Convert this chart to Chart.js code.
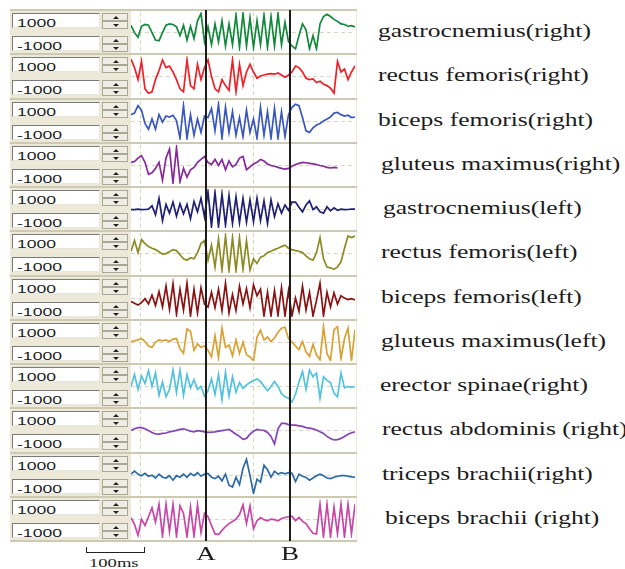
<!DOCTYPE html>
<html>
<head>
<meta charset="utf-8">
<script src="https://cdn.jsdelivr.net/npm/chart.js@4.4.0/dist/chart.umd.min.js"></script>
<style>
body { margin: 0; background: #fff; width: 625px; height: 569px; overflow: hidden; position: relative; }
.abs { position: absolute; }
.panel { background: #ece9d8; }
.sep { background: #cdc9b2; height: 2px; }
.box { background: #fff; border-top: 1px solid #7a7a7a; border-left: 1px solid #7a7a7a; border-bottom: 1px solid #e8e6dc; border-right: 1px solid #e8e6dc; box-sizing: border-box; overflow: hidden; }
.box span { display: inline-block; font: 11px 'Liberation Sans', sans-serif; color: #1a1a1a; transform: scaleX(1.6); transform-origin: left center; position: relative; left: 4px; top: -1px; line-height: 13px; }
.btn { position: absolute; left: 0; width: 26px; height: 8px; background: #f0eee4; border: 1px solid #a9a795; box-sizing: border-box; }
.up::after, .dn::after { content: ''; position: absolute; left: 10px; width: 0; height: 0; border-left: 3px solid transparent; border-right: 3px solid transparent; }
.up::after { top: 2px; border-bottom: 3px solid #222; }
.dn::after { top: 2px; border-top: 3px solid #222; }
.lbl { font: 18px 'Liberation Serif', serif; color: #1c1c1c; white-space: nowrap; transform: scaleX(1.42); transform-origin: left center; line-height: 20px; }
</style>
</head>
<body>
<div id="root"></div>
<script>
const muscles = [
    'gastrocnemius(right)', 'rectus femoris(right)', 'biceps femoris(right)', 'gluteus maximus(right)',
    'gastrocnemius(left)', 'rectus femoris(left)', 'biceps femoris(left)', 'gluteus maximus(left)',
    'erector spinae(right)', 'rectus abdominis (right)', 'triceps brachii(right)', 'biceps brachii (right)'
];
const rangeTop = '1000';
const rangeBottom = '-1000';
const markerNames = ['A', 'B'];
const markerPos = [21.3, 45.4];
const gridPos = [2.6, 34.9];
const scaleBarLabel = '100ms';

const gastrocRight = [320, -60, -290, 270, 360, 320, -60, -440, -480, -60, 320, 390, 360, 240, -210, 320, -440, 270, -360, 550, 920, -520,
    240, -670, 390, -520, 550, -740, 390, -670, 850, -820, 920, -740, 700, -820, 550, -670, 850, -820, 770, -740, 920, -670, 470, -520,
    -740, -890, -210, 390, 90, -890, -210, -890, 390, 770, 880, 770, 620, 520, 390, 360, 270, 300, 240];
const rectusFemRight = [850, 420, -180, 730, -640, -860, -790, -180, 270, 800, 420, 500, 200, -180, -640, -790, 800, -480, -640, 580, -180, 420,
    800, -30, -640, -790, -180, -480, -710, 800, -790, 580, -480, 200, 580, 200, -110, 0, 50, 90, 120, 90, 150, 50, -60, 50,
    200, 500, 420, 200, -110, -180, -150, -330, -260, -410, -480, -610, -860, 730, 200, 350, -180, 200, 500];
const bicepsFemRight = [300, 380, 760, 530, -150, -450, 80, -450, 300, -80, 230, 180, 270, 0, -910, 760, -910, 300, -760, 80, -610, 230,
    150, 610, -530, 830, -910, 680, -610, 450, -760, 150, -830, 530, -610, 80, -910, 680, -760, 450, -910, 610, -910, 450, -830, 300,
    680, 830, 760, 150, -530, -610, -380, -230, -150, -30, 80, 180, 380, 420, 300, 230, 270, 150, 180];
const gluteusRight = [110, 150, 330, 450, 110, -500, -420, -200, 110, -800, 330, 790, -950, 860, -880, -200, -650, -270, -150, 110, 260, 410,
    110, 0, 260, -50, 260, -270, 180, -120, 0, 330, 410, -270, -120, 30, 110, 260, 180, 30, -50, -90, -150, -200, -240, -200,
    -90, 0, 60, 110, 90, 60, 30, 0, -50, -90, -150, -180, -150, -170, null, null, null, null, null];
const gastrocLeft = [-60, -60, -30, -60, -50, -30, 140, -320, 520, -620, 210, -240, 330, -390, 240, -270, 210, -520, 360, -170, 520, -420,
    850, -920, 820, -920, 740, -850, 670, -770, 590, -730, 520, -700, 440, -670, 520, -620, 390, -770, 440, -420, 240, -240, 180, -90,
    330, 330, 60, -170, 180, 390, -60, 90, -170, -240, 90, -120, 30, -90, -30, -60, -50, -30, -30];
const rectusFemLeft = [90, 620, 20, 670, 470, 320, 240, 170, 60, -60, -30, 60, 170, 120, -90, -290, -360, -240, -290, 20, 470, 620,
    -360, 390, -700, 700, -850, 850, -890, 770, -890, 770, -820, 620, -850, -290, -520, -210, -140, 20, 90, 170, 240, 320, 390, 240,
    170, 120, 90, 20, -140, -290, -360, 20, 770, -290, -700, -740, -820, -700, -440, 240, 850, 770, 850];
const bicepsFemLeft = [-210, -300, -390, -260, -60, -330, 120, -410, 300, -480, 580, -610, 700, -860, 420, -640, 730, -940, 420, -790, 500, -330,
    -480, 270, -520, 420, -670, 730, -790, 150, -670, 580, -330, 450, -520, 650, 90, 420, -940, 270, -940, 350, -910, 500, -940, 350,
    -940, -30, -710, 580, -640, 270, -940, -150, 730, -940, 270, -480, 240, -330, 90, -30, -110, -60, -120];
const gluteusLeft = [0, 30, 80, 150, 0, -230, -300, -30, 80, 30, 80, 0, 120, 150, -380, -610, 640, 530, -450, -120, -300, -230,
    -450, -790, 300, -830, 680, -300, -180, -730, 80, -610, -30, -680, -790, -980, 230, 580, 80, 230, 0, 180, 480, 680, 730, 150,
    -30, -230, -420, 0, -530, -760, -150, -680, -940, 760, -610, -980, 610, 760, -880, 150, 680, -980, 610];
const erectorRight = [-50, 560, -200, 480, 110, 760, -50, 640, -500, 180, -580, -200, 790, -350, 790, -500, 560, -120, 300, -200, -50, -550,
    -270, 330, -450, 560, -730, 670, -550, 450, -350, 150, -150, 30, 150, 260, 330, 210, -50, -270, -50, 210, -50, -420, -580, -650,
    -850, -450, 180, 710, -200, 790, 450, 640, -650, 450, 260, 150, -390, -580, 640, -120, -50, -90, -50];
const rectusAbdRight = [-20, 60, 120, 120, 60, -30, -120, -200, -210, -170, -150, -90, -60, -20, 30, 60, 0, -60, -90, -30, -60, -90,
    -120, -110, -90, -60, -30, 0, 30, -90, -210, -320, -470, -420, -210, -60, 30, 0, -20, -120, -320, -700, 60, 330, 330, 270,
    240, 240, 210, 180, 120, 90, 60, 0, -90, -170, -320, -420, -500, -480, -420, -320, -210, -140, -90];
const tricepsRight = [20, 170, 20, -60, 60, -90, -30, -180, 20, -140, -180, -60, -290, -60, -140, 20, -140, 60, -60, 90, -90, 20,
    60, -140, -210, -90, -330, 20, -550, -640, -140, -520, 320, 770, -60, -970, -240, -390, 470, 240, -140, 170, 20, 90, 30, 90,
    60, -360, 20, -90, -150, -290, -180, -60, 20, -60, -180, -210, -140, -90, -60, -60, -90, -120, -140];
const bicepsBraRight = [50, -300, -860, -30, -360, 90, 550, -180, 730, -910, 730, -670, 730, -910, 650, 270, -940, 580, -910, 700, -710, 270,
    90, -360, -790, -820, -610, -410, -260, -150, -30, 200, 700, -260, 650, -520, -110, 50, -60, -120, -30, -60, -120, 0, 50, 90,
    120, -110, 50, -150, -260, -520, -760, -790, 730, -940, 730, -940, 580, -790, 730, -940, 730, -790, 730];

const series = [gastrocRight, rectusFemRight, bicepsFemRight, gluteusRight, gastrocLeft, rectusFemLeft,
    bicepsFemLeft, gluteusLeft, erectorRight, rectusAbdRight, tricepsRight, bicepsBraRight];
const lineColors = ['#12883a', '#f02028', '#3a58bc', '#86299a', '#1f1f74', '#8c8a22',
    '#8a1212', '#d9a032', '#52c2dc', '#8444b4', '#2c6aa6', '#c846a6'];

// layout
const panelLeft = 10, panelTop = 10, panelRight = 357;
const plotLeft = 131, plotWidth = 224;
const rowH = 44.25;
const rowTop = r => Math.round(panelTop + rowH * r);
const labelLeft = [378, 378, 378, 381, 383, 381, 381, 381, 380, 382, 382, 385];
const bottomExtra = 28;

const root = document.getElementById('root');
function el(cls, style, html) {
    const d = document.createElement('div');
    d.className = cls;
    Object.assign(d.style, style);
    if (html !== undefined) d.innerHTML = html;
    root.appendChild(d);
    return d;
}

el('abs panel', { left: panelLeft + 'px', top: panelTop + 'px', width: (panelRight - panelLeft) + 'px', height: (rowTop(12) - panelTop) + 'px' });
el('abs', { left: plotLeft + 'px', top: panelTop + 'px', width: (plotWidth + 1) + 'px', height: (rowTop(12) - panelTop) + 'px', background: '#fff' });
for (let r = 0; r <= muscles.length; r++) {
    el('abs sep', { left: panelLeft + 'px', top: (rowTop(r) - 1) + 'px', width: (panelRight - panelLeft) + 'px' });
}

function spinner(top) {
    const s = el('abs', { left: '102px', top: top + 'px', width: '26px', height: '16px' });
    const u = document.createElement('div'); u.className = 'btn up'; u.style.top = '0px';
    const d = document.createElement('div'); d.className = 'btn dn'; d.style.top = '8px';
    s.appendChild(u); s.appendChild(d);
}

muscles.forEach((name, r) => {
    const t = rowTop(r);
    el('abs box', { left: '12px', top: (t + 3) + 'px', width: '88px', height: '15px' }, '<span>' + rangeTop + '</span>');
    spinner(t + 3);
    el('abs box', { left: '12px', top: (t + 26) + 'px', width: '88px', height: '15px' }, '<span>' + rangeBottom + '</span>');
    spinner(t + 26);
    el('abs lbl', { left: labelLeft[r] + 'px', top: (t + 11) + 'px' }, name);
});

// scale bar
el('abs', { left: '86px', top: '552px', width: '59px', height: '1px', background: '#222' });
el('abs', { left: '86px', top: '547px', width: '1px', height: '6px', background: '#222' });
el('abs', { left: '144px', top: '547px', width: '1px', height: '6px', background: '#222' });
el('abs', { left: '89px', top: '557px', font: '12px "Liberation Serif", serif', color: '#222', transform: 'scaleX(1.55)', transformOrigin: 'left center', lineHeight: '12px' }, scaleBarLabel);

const emgDecor = {
    id: 'emgDecor',
    beforeDatasetsDraw(chart) {
        const { ctx, chartArea, scales: { x, y } } = chart;
        ctx.save();
        ctx.strokeStyle = '#d8d5c0';
        ctx.lineWidth = 1;
        ctx.setLineDash([4, 3]);
        gridPos.forEach(v => {
            const px = Math.round(x.getPixelForValue(v)) + 0.5;
            ctx.beginPath(); ctx.moveTo(px, chartArea.top); ctx.lineTo(px, chartArea.bottom); ctx.stroke();
        });
        const py = Math.round(y.getPixelForValue(0)) + 0.5;
        ctx.beginPath(); ctx.moveTo(chartArea.left, py); ctx.lineTo(chartArea.right, py); ctx.stroke();
        ctx.restore();
    },
    afterDatasetsDraw(chart, args, opts) {
        const { ctx, scales: { x } } = chart;
        const bottom = opts.names ? chart.height - bottomExtra : chart.height;
        ctx.save();
        ctx.strokeStyle = '#1c1c1c';
        ctx.lineWidth = 2;
        markerPos.forEach((v, i) => {
            const px = Math.round(x.getPixelForValue(v));
            ctx.beginPath(); ctx.moveTo(px, 0); ctx.lineTo(px, bottom); ctx.stroke();
            if (opts.names) {
                ctx.save();
                ctx.translate(px, bottom + 14);
                ctx.scale(1.5, 1);
                ctx.fillStyle = '#1c1c1c';
                ctx.font = '18px "Liberation Serif", serif';
                ctx.textAlign = 'center';
                ctx.textBaseline = 'middle';
                ctx.fillText(markerNames[i], 0, 0);
                ctx.restore();
            }
        });
        ctx.restore();
    }
};

const sampleIdx = gastrocRight.map((_, i) => i);

series.forEach((values, r) => {
    const last = r === series.length - 1;
    const top = rowTop(r);
    const h = rowTop(r + 1) - top + (last ? bottomExtra : 0);
    const wrap = el('abs', { left: plotLeft + 'px', top: top + 'px', width: plotWidth + 'px', height: h + 'px' });
    const canvas = document.createElement('canvas');
    wrap.appendChild(canvas);
    new Chart(canvas.getContext('2d'), {
        type: 'line',
        data: {
            labels: sampleIdx,
            datasets: [{
                label: muscles[r],
                data: values,
                borderColor: lineColors[r],
                borderWidth: 1.7,
                pointRadius: 0,
                tension: 0,
                spanGaps: false
            }]
        },
        options: {
            responsive: true,
            maintainAspectRatio: false,
            animation: false,
            events: [],
            layout: { padding: { top: 2, bottom: 3 + (last ? bottomExtra : 0), left: 0, right: 0 } },
            scales: {
                x: { type: 'linear', display: false, min: 0, max: sampleIdx.length - 1 },
                y: { display: false, min: -1000, max: 1000 }
            },
            plugins: {
                legend: { display: false },
                tooltip: { enabled: false },
                emgDecor: { names: last }
            }
        },
        plugins: [emgDecor]
    });
});
</script>
</body>
</html>
